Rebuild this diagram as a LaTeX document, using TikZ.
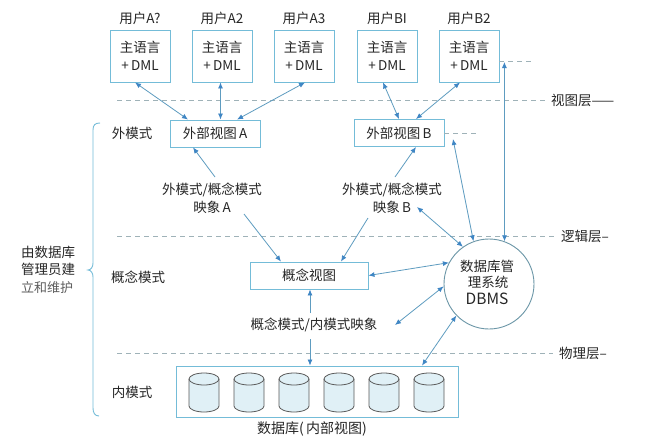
\documentclass[tikz,border=0pt]{standalone}
\usepackage{fontspec}
\setmainfont{Noto Sans CJK SC}
\usetikzlibrary{arrows.meta,shapes.geometric}
\definecolor{boxc}{HTML}{74BCD8}
\definecolor{arrc}{HTML}{5E9CC0}
\definecolor{tipc}{HTML}{3F86C4}
\definecolor{dashc}{HTML}{9FB2B8}
\definecolor{txtc}{HTML}{262626}
\tikzset{
  txt/.style={inner sep=0pt,text=txtc,font=\fontsize{13.5}{18}\selectfont,align=center},
  ubox/.style={txt,draw=boxc,line width=0.9pt,minimum width=60pt,minimum height=52pt},
  vbox/.style={txt,draw=boxc,line width=0.9pt,minimum width=90pt,minimum height=27pt},
  link/.style={draw=arrc,line width=0.8pt,{Latex[length=6pt,width=5pt,color=tipc]}-{Latex[length=6pt,width=5pt,color=tipc]}},
  onelink/.style={draw=arrc,line width=0.8pt,-{Latex[length=6pt,width=5pt,color=tipc]}},
  guide/.style={draw=dashc,line width=0.7pt,dash pattern=on 5pt off 4pt},
  canbody/.style={draw=black!65,line width=0.8pt,fill=boxc!22}
}
\begin{document}
\begin{tikzpicture}[x=1pt,y=-1pt]
\useasboundingbox (0,0) rectangle (654,445);
\fill[white] (0,0) rectangle (654,445);

% layer lines
\coordinate (l1a) at (117,100); \coordinate (l1b) at (546,100);
\coordinate (l2a) at (117,236); \coordinate (l2b) at (556,236);
\coordinate (l3a) at (117,353); \coordinate (l3b) at (553,353);
\draw[guide] (l1a) -- (l1b);
\draw[guide] (l2a) -- (l2b);
\draw[guide] (l3a) -- (l3b);

% users
\foreach \n/\x/\t in {u1/140/用户A?,u2/222/用户A2,u3/304/用户A3,u4/387/用户BI,u5/469/用户B2}{
  \node[txt] (\n t) at (\x,18) {\t};
  \node[ubox] (\n) at (\x,56) {主语言\\+\,DML};
}

% views
\node[vbox] (ea) at (215,133.5) {外部视图\,A};
\node[vbox] (eb) at (399,133) {外部视图\,B};
\node[vbox,minimum width=118pt] (cv) at (309,275.5) {概念视图};
\node[draw=boxc,line width=0.9pt,minimum width=282pt,minimum height=51pt,inner sep=0pt] (db) at (317,391.5) {};
\foreach \x in {204,249,294,339,384,429}{
  \path[canbody] (\x-15,379) -- (\x-15,406)
     arc[start angle=180,end angle=360,x radius=15pt,y radius=6pt]
     -- (\x+15,379)
     arc[start angle=0,end angle=180,x radius=15pt,y radius=6pt] -- cycle;
  \draw[canbody,fill=none] (\x-15,379)
     arc[start angle=180,end angle=360,x radius=15pt,y radius=6pt];
}
\node[txt,font=\fontsize{14}{18}\selectfont] (dbl) at (312,429) {数据库(\,内部视图)};
\node[circle,draw=boxc!70!black!85,line width=0.9pt,minimum size=90pt,inner sep=0pt] (dbms) at (489,284) {};
\node[txt] (d1) at (487,266) {数据库管};
\node[txt] (d2) at (488,282) {理系统};
\node[txt,font=\fontsize{15.5}{18}\selectfont] (d3) at (487,299) {DBMS};

% mapping labels
\node[txt] (ma) at (212,198) {外模式/概念模式\\映象\,A};
\node[txt] (mb) at (392,198) {外模式/概念模式\\映象\,B};
\node[txt] (mc) at (314,325) {概念模式/内模式映象};

% side labels
\node[txt] (s1) at (132,133) {外模式};
\node[txt] (s2) at (138,277) {概念模式};
\node[txt] (s3) at (132,392) {内模式};
\node[txt,anchor=west] (r1) at (551,100) {视图层——};
\node[txt,anchor=west] (r2) at (561,236) {逻辑层–};
\node[txt,anchor=west] (r3) at (559,353) {物理层–};
\node[txt] (b1) at (48,252) {由数据库};
\node[txt] (b2) at (48,269.5) {管理员建};
\node[txt,font=\fontsize{13}{15}\selectfont,text=txtc!75] (b3) at (47,288) {立和维护};

% brace
\draw[draw=boxc,line width=0.9pt] (100,123) .. controls (95,123) and (93,125) .. (93,130)
  -- (93,263) .. controls (93,267) and (91,270) .. (88,270)
  .. controls (91,270) and (93,273) .. (93,277)
  -- (93,408) .. controls (93,413) and (95,416) .. (99,416);

% user <-> view
\draw[link] ([xshift=-5pt]u1.south) -- ([xshift=-27pt]ea.north);
\draw[link] ([xshift=-1.5pt]u2.south) -- ([xshift=5.5pt]ea.north);
\draw[link] ([xshift=1pt]u3.south) -- ([xshift=22pt]ea.north);
\draw[link] ([xshift=-4pt]u4.south) -- (eb.north);
\draw[link] ([xshift=-9pt]u5.south) -- ([xshift=17pt]eb.north);

% mappings
\coordinate (mau) at (215,177);
\coordinate (mad) at (244,214);
\coordinate (mbu) at (395,177);
\coordinate (mbd) at (368,218);
\coordinate (mbr) at (417,207);
\coordinate (mcr) at (395,325);
\coordinate (mct) at (310,313);
\coordinate (mcb) at (310,339);
\draw[onelink] (mau) -- ([xshift=-22pt]ea.south);
\draw[onelink] (mad) -- ([xshift=-28pt]cv.north);
\draw[onelink] (mbu) -- ([xshift=17pt]eb.south);
\draw[onelink] (mbd) -- ([xshift=32pt]cv.north);
\draw[onelink] (mct) -- ([xshift=1pt]cv.south);
\draw[onelink] (mcb) -- ([xshift=-7pt]db.north);

% DBMS links
\coordinate (ebr) at (453,139);
\coordinate (u5r) at (504.4,62);
\draw[link] (ebr) -- (dbms.110);
\draw[link] (u5r) -- (dbms.70);
\draw[link] (mbr) -- (dbms.125);
\draw[link] (cv.east) -- (dbms.152);
\draw[link] (mcr) -- (dbms.183);
\draw[link] ([xshift=105pt]db.north) -- (dbms.224);

% short guides
\coordinate (g1) at (533,61);
\coordinate (g2) at (476,133);
\draw[guide] (u5.east) ++(0,5) -- (g1);
\draw[guide] (eb.east) -- (g2);
\end{tikzpicture}
\end{document}
